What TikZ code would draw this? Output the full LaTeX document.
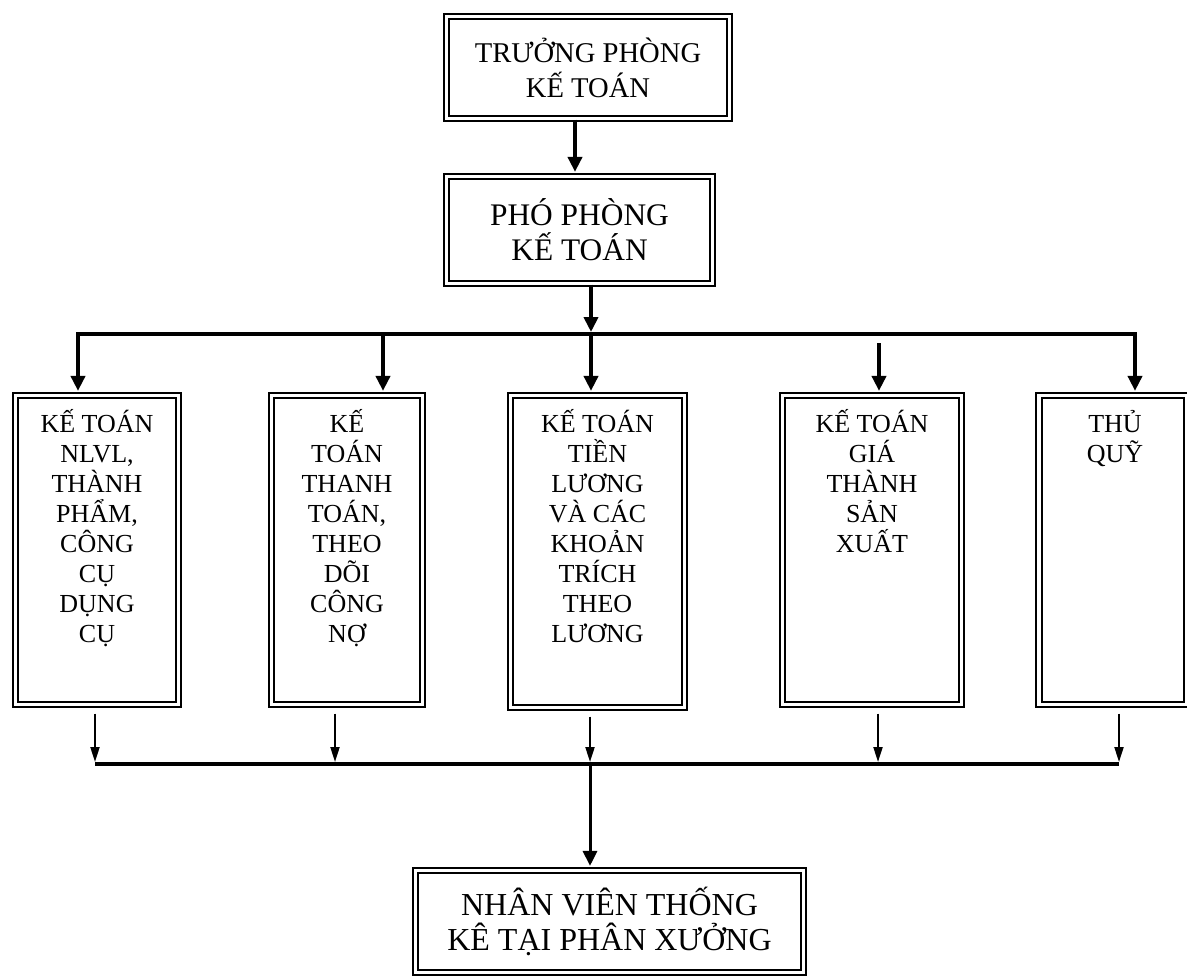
\documentclass[tikz,border=0pt]{standalone}
\usepackage{fontspec}
\setmainfont{Liberation Serif}
\usetikzlibrary{arrows.meta,positioning,calc}

\tikzset{
  dbox/.style={draw, double, line width=1pt, double distance=1.6pt, inner sep=0pt, align=center},
  boxtext/.style={inner sep=0pt, align=center, anchor=north, font=\fontsize{13}{15}\selectfont},
  arrt/.style={line width=2pt, ->, shorten >=1.8pt},
  arrb/.style={line width=1pt, -{Triangle[width=4.5pt,length=7.5pt]}, shorten >=1pt},
}

\begin{document}
\begin{tikzpicture}[x=0.5pt, y=-0.5pt, >={Triangle[width=7pt,length=7.5pt]}]
    \useasboundingbox (0,0) rectangle (1187,976);

    % truong phong, pho phong
    \node[dbox, minimum width=141.5pt, minimum height=51pt, font=\fontsize{14.3}{17.5}\selectfont] (truong) at (588,67.5) {TRƯỞNG PHÒNG\\KẾ TOÁN};
    \node[dbox, minimum width=133pt, minimum height=53.5pt, font=\fontsize{15.7}{17.5}\selectfont] (pho) at (579.5,230) {PHÓ PHÒNG\\KẾ TOÁN};

    % cac ke toan vien
    \node[dbox, minimum width=81.5pt, minimum height=154.5pt] (kt1) at (97,550) {};
    \node[dbox, minimum width=75.5pt, minimum height=154.5pt] (kt2) at (347,550) {};
    \node[dbox, minimum width=87pt, minimum height=156pt] (kt3) at (597.5,551.5) {};
    \node[dbox, minimum width=89.5pt, minimum height=154.5pt] (kt4) at (872,550) {};
    \node[dbox, minimum width=74pt, minimum height=154.5pt] (kt5) at (1113,550) {};

    \node[boxtext] (kt1-t) at ([yshift=-7.5pt]kt1.north) {KẾ TOÁN\\NLVL,\\THÀNH\\PHẨM,\\CÔNG\\CỤ\\DỤNG\\CỤ};
    \node[boxtext] (kt2-t) at ([yshift=-7.5pt]kt2.north) {KẾ\\TOÁN\\THANH\\TOÁN,\\THEO\\DÕI\\CÔNG\\NỢ};
    \node[boxtext] (kt3-t) at ([yshift=-7.5pt]kt3.north) {KẾ TOÁN\\TIỀN\\LƯƠNG\\VÀ CÁC\\KHOẢN\\TRÍCH\\THEO\\LƯƠNG};
    \node[boxtext] (kt4-t) at ([yshift=-7.5pt]kt4.north) {KẾ TOÁN\\GIÁ\\THÀNH\\SẢN\\XUẤT};
    \node[boxtext] (kt5-t) at ([yshift=-7.5pt,xshift=1pt]kt5.north) {THỦ\\QUỸ};

    % nhan vien thong ke
    \node[dbox, minimum width=194pt, minimum height=51pt, font=\fontsize{16}{17.5}\selectfont] (nv) at (609.5,921.5) {NHÂN VIÊN THỐNG\\KÊ TẠI PHÂN XƯỞNG};

    % duong noi phia tren
    \coordinate (a1) at (575,0);
    \coordinate (b1) at (78,334);
    \coordinate (b2) at (383,334);
    \coordinate (bt) at (591,334);
    \coordinate (g4) at (879,343);
    \coordinate (b5) at (1135,334);

    \draw[arrt] (truong.south -| a1) -- (pho.north -| a1);
    \draw[arrt, shorten >=1pt] (pho.south -| bt) -- (bt);
    \draw[arrt, <->, shorten <=1.8pt] (kt1.north -| b1) -- (b1) -- (b5) -- (kt5.north -| b5);
    \draw[arrt] (b2) -- (kt2.north -| b2);
    \draw[arrt] (bt) -- (kt3.north -| bt);
    \draw[arrt] (g4) -- (kt4.north -| g4);

    % duong noi phia duoi
    \coordinate (d1) at (95,764);
    \coordinate (d2) at (335,764);
    \coordinate (d3) at (590,764);
    \coordinate (d4) at (878,764);
    \coordinate (d5) at (1119,764);

    \foreach \i in {1,...,5}
        \draw[arrb] ($(kt\i.south -| d\i)+(0,8)$) -- (d\i);
    \draw[line width=1.8pt] (d1) -- (d5);
    \draw[line width=1.5pt, -{Triangle[width=7pt,length=7.5pt]}, shorten >=1.8pt] (d3) -- (nv.north -| d3);
\end{tikzpicture}
\end{document}
